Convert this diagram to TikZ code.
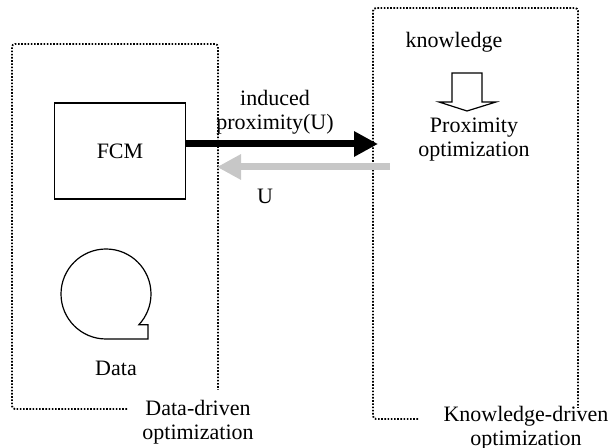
\documentclass[tikz,border=0pt]{standalone}
\usepackage{fontspec}
\setmainfont{Liberation Serif}
\usetikzlibrary{arrows.meta, positioning}

\begin{document}
\begin{tikzpicture}[x=0.5pt, y=-0.5pt,
        zone/.style={line width=0.9pt, dash pattern=on 0.8pt off 0.8pt, rounded corners=1.5pt},
        lbl/.style={font=\fontsize{11}{12}\selectfont, inner sep=0pt, align=center},
        blk/.style={draw, line width=0.6pt, minimum width=65.5pt, minimum height=48pt, lbl},
        fwd/.style={-{Triangle[length=12pt, width=12pt]}, line width=3.5pt},
        bwd/.style={fwd, draw=black!22, fill=black!22}
    ]
        \useasboundingbox (0,0) rectangle (611,448);

        % Data-driven side
        \draw[zone] (127,409) -- (12,409) -- (12,44) -- (218,44) -- (218,390);
        \node[blk] (fcm) at (120,151) {FCM};
        \draw[line width=0.6pt] (106,339) arc[start angle=90, end angle=403, radius=45] -- (148,324.7) -- (148,339) -- cycle;
        \node[lbl] (data) at (116,368) {Data};
        \node[lbl] (ddopt) at (198,422) {Data-driven\\optimization};

        % Knowledge-driven side
        \draw[zone] (418,419) -- (373,419) -- (373,8) -- (578,8) -- (578,408);
        \node[lbl] (know) at (454,42) {knowledge};
        \draw[line width=0.6pt] (452,73) -- (482,73) -- (482,102) -- (496,102) -- (467,111) -- (439,102) -- (452,102) -- cycle;
        \node[lbl] (proxopt) at (474,140) {Proximity\\optimization};
        \node[lbl] (kdopt) at (526,428) {Knowledge-driven\\optimization};

        % Exchange
        \coordinate (kd-in) at (378,144);
        \coordinate (kd-out) at (390,167);
        \coordinate (dd-in) at (217,167);
        \draw[fwd] (fcm.east |- kd-in) -- (kd-in);
        \draw[bwd] (kd-out) -- (dd-in);
        \node[lbl] (induced) at (275,112) {induced\\proximity(U)};
        \node[lbl] (u) at (265,196) {U};
    \end{tikzpicture}
\end{document}
